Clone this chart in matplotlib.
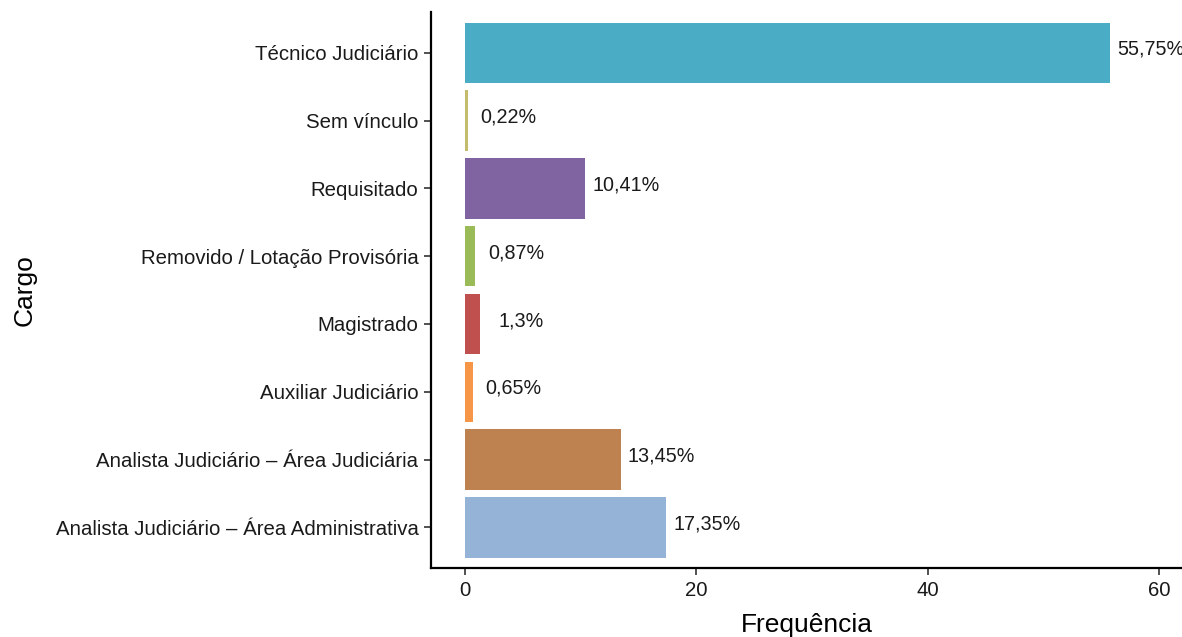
import matplotlib.pyplot as plt

cargos = [
    "Analista Judiciário – Área Administrativa",
    "Analista Judiciário – Área Judiciária",
    "Auxiliar Judiciário",
    "Magistrado",
    "Removido / Lotação Provisória",
    "Requisitado",
    "Sem vínculo",
    "Técnico Judiciário",
]
frequencia = [17.35, 13.45, 0.65, 1.30, 0.87, 10.41, 0.22, 55.75]
cores = ["#95B3D7", "#BE8250", "#F79646", "#C0504D",
         "#9BBB59", "#8064A2", "#C4BC6C", "#4BACC6"]


def rotulo(v: float) -> str:
    s = f"{v:.2f}".rstrip("0").rstrip(".")
    return s.replace(".", ",") + "%"


plt.rcParams["font.family"] = ["Liberation Sans", "DejaVu Sans"]

fig = plt.figure(figsize=(11.82, 6.37), dpi=100)
ax = fig.add_axes([0.3646, 0.1083, 0.6354, 0.8727])

pos = list(range(1, len(cargos) + 1))
ax.barh(pos, frequencia, height=0.89, color=cores)
for p, v in zip(pos, frequencia):
    ax.text(v + 3.55, p + 0.05, rotulo(v), ha="center", va="center",
            fontsize=14.2, color="#1a1a1a", clip_on=False)

ax.set_xlim(-2.95, 62.0)
ax.set_ylim(0.4, 8.6)
ax.set_yticks(pos)
ax.set_yticklabels(cargos)
ax.set_xticks([0, 20, 40, 60])

for side in ["top", "right"]:
    ax.spines[side].set_visible(False)
for side in ["left", "bottom"]:
    ax.spines[side].set_linewidth(1.6)
    ax.spines[side].set_color("black")

ax.tick_params(axis="both", length=5, width=1.2, color="#333333",
               labelsize=14.7, labelcolor="#1a1a1a", pad=4)
ax.set_xlabel("Frequência", fontsize=19, labelpad=10)
ax.set_ylabel("Cargo", fontsize=19, labelpad=14)

fig.savefig("out.png", dpi=100)
